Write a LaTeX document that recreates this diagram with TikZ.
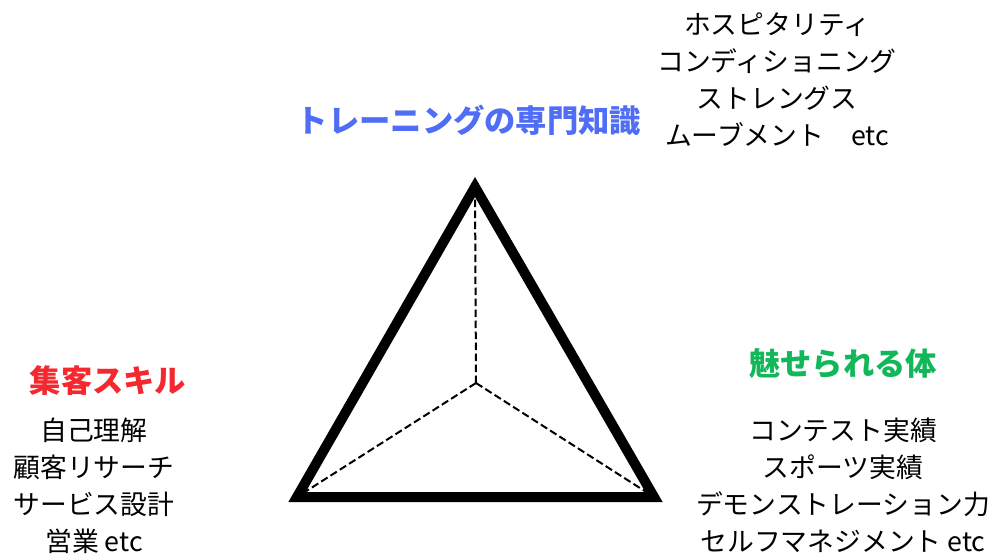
\documentclass[tikz,border=0pt]{standalone}
\usepackage{fontspec}
\setmainfont{Noto Sans CJK JP}
\definecolor{ttblue}{HTML}{4F6DF5}
\definecolor{ttred}{HTML}{F5282F}
\definecolor{ttgreen}{HTML}{12B75A}
\begin{document}
\begin{tikzpicture}[x=1pt,y=-1pt,
  heading/.style={font=\fontsize{31.3}{36}\selectfont\bfseries, inner sep=0pt},
  itemlist/.style={font=\fontsize{26.8}{37}\selectfont, align=center, inner sep=0pt},
  edge/.style={line width=10pt, line join=miter},
  spoke/.style={line width=2pt, dash pattern=on 7.5pt off 3.5pt}]
\useasboundingbox (0,0) rectangle (994,554);
\fill[white] (0,0) rectangle (994,554);
% vertices
\coordinate (top) at (475,187);
\coordinate (bl) at (297,497);
\coordinate (br) at (654,497);
\coordinate (ctr) at (476,383);
\draw[spoke] (ctr) -- (top);
\draw[spoke] (ctr) -- (bl);
\draw[spoke] (ctr) -- (br);
\draw[edge] (top) -- (bl) -- (br) -- cycle;
% headings
\node[heading, text=ttblue] (h1) at (469,120) {トレーニングの専門知識};
\node[heading, text=ttred] (h2) at (108,381) {集客スキル};
\node[heading, text=ttgreen] (h3) at (843,364) {魅せられる体};
% lists
\node[itemlist] (l1) at (777,80) {ホスピタリティ\\コンディショニング\\ストレングス\\ムーブメント\quad etc};
\node[itemlist] (l2) at (94,486) {自己理解\\顧客リサーチ\\サービス設計\\営業 etc};
\node[itemlist] (l3) at (843,485) {コンテスト実績\\スポーツ実績\\デモンストレーション力\\セルフマネジメント etc};
\end{tikzpicture}
\end{document}
